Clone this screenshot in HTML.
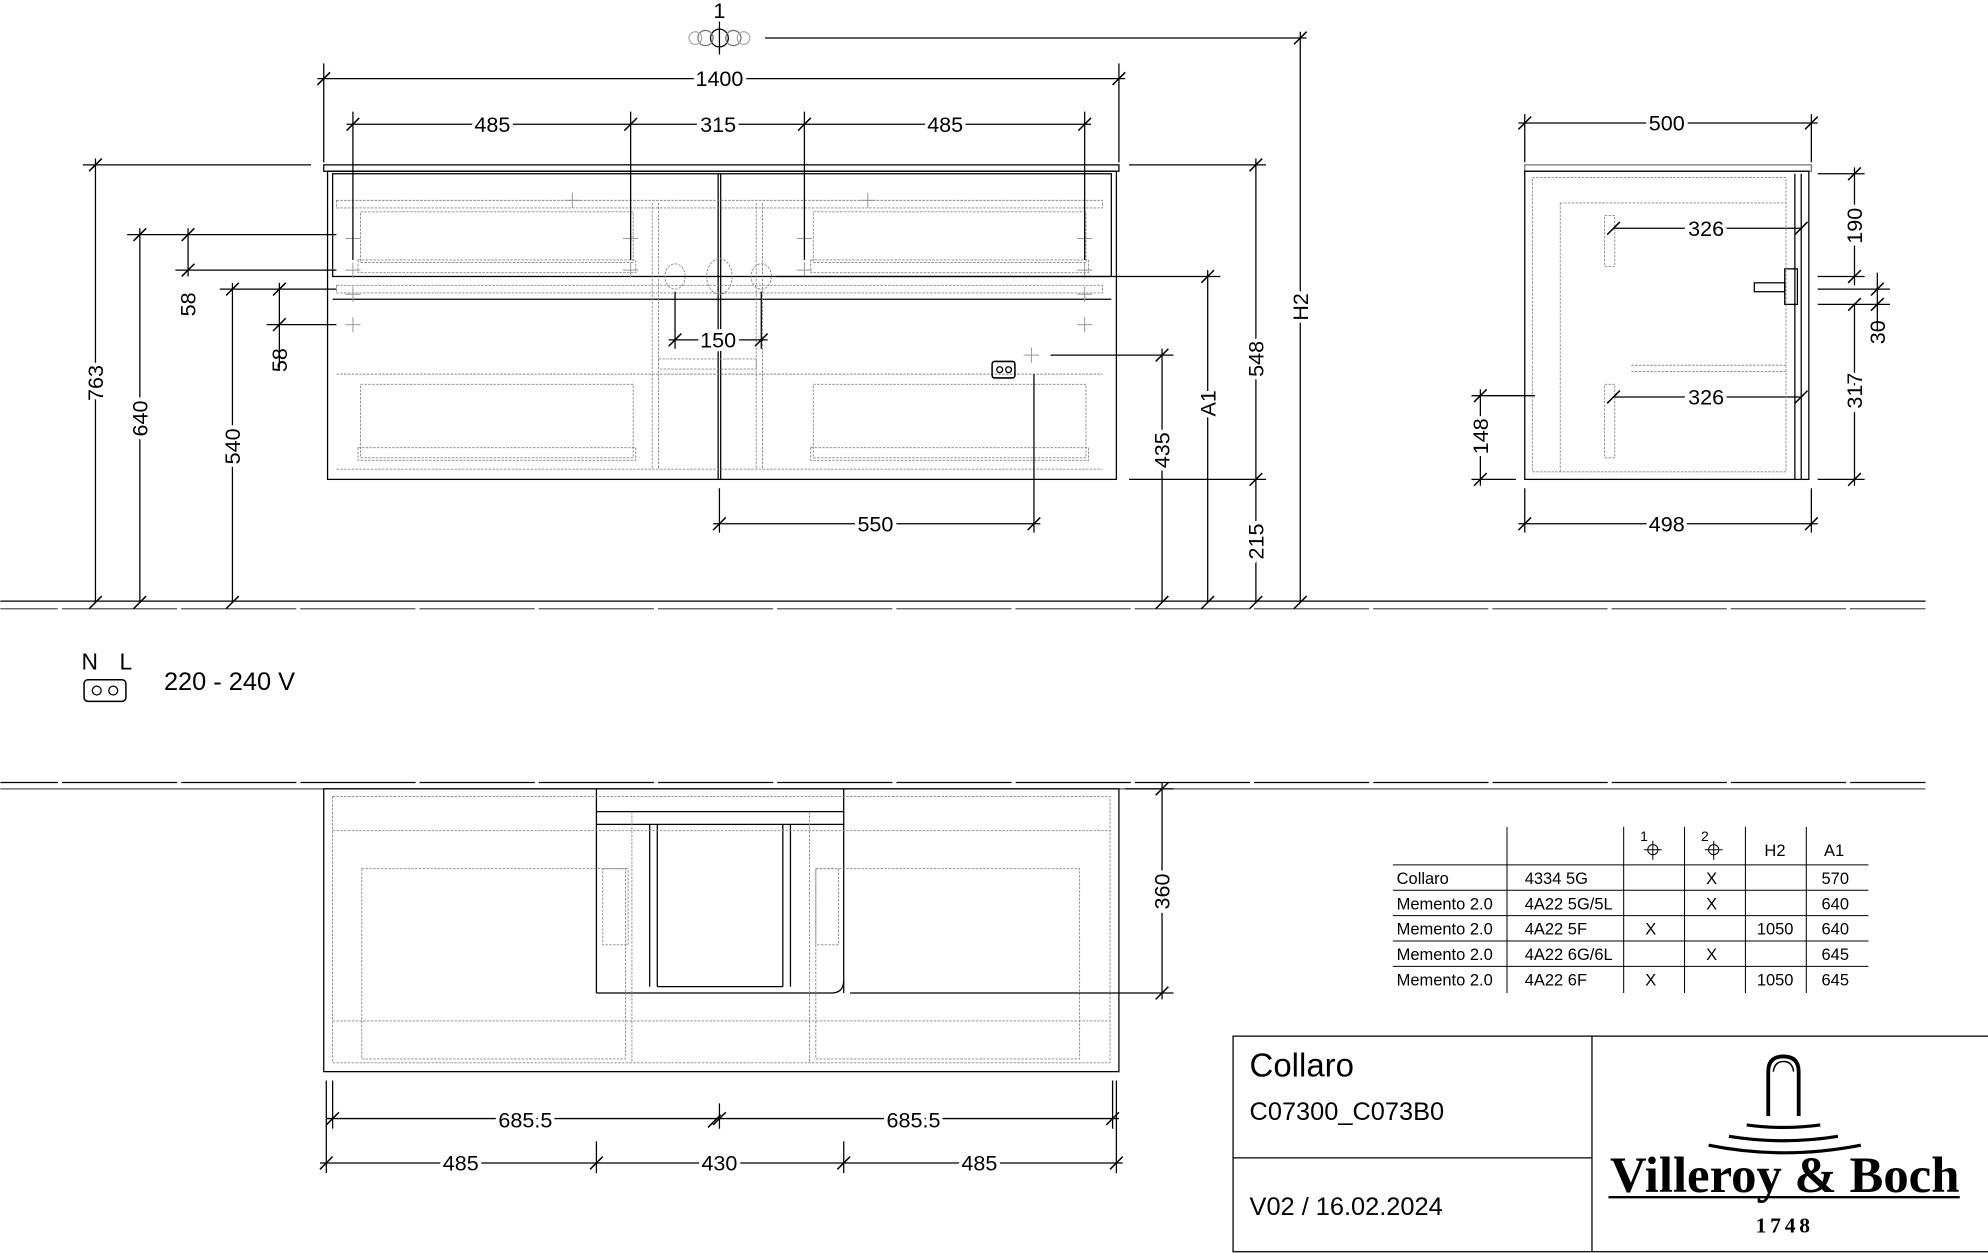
<!DOCTYPE html>
<html><head><meta charset="utf-8"><style>
html,body{margin:0;padding:0;background:#fff;}
svg{display:block;}
text{font-family:"Liberation Sans",sans-serif;fill:#000;}
.d{font-family:"DejaVu Sans Condensed","DejaVu Sans",sans-serif;font-size:17px;}
</style></head><body>
<svg width="1988" height="1253" viewBox="0 0 1567 988" xmlns="http://www.w3.org/2000/svg">
<defs>
<g id="tk"><line x1="-5" y1="5" x2="5" y2="-5" stroke="#000" stroke-width="1.2"/></g>
<g id="cr"><line x1="-6" y1="0" x2="6" y2="0" stroke="#999" stroke-width="0.8"/><line x1="0" y1="-6" x2="0" y2="6" stroke="#999" stroke-width="0.8"/></g>
</defs>
<g stroke="#000" stroke-width="1" fill="none">
<!-- floors -->
<line x1="0" y1="474" x2="1518" y2="474"/><line x1="0" y1="480" x2="1518" y2="480" stroke="#555"/>
<line x1="0" y1="617" x2="1518" y2="617"/><line x1="0" y1="622" x2="1518" y2="622" stroke="#555"/>
</g>
<g stroke="#fff" stroke-width="3">
<line x1="48" y1="476" x2="46" y2="483"/><line x1="142" y1="476" x2="140" y2="483"/><line x1="236" y1="476" x2="234" y2="483"/><line x1="330" y1="476" x2="328" y2="483"/><line x1="424" y1="476" x2="422" y2="483"/><line x1="518" y1="476" x2="516" y2="483"/><line x1="612" y1="476" x2="610" y2="483"/><line x1="706" y1="476" x2="704" y2="483"/><line x1="800" y1="476" x2="798" y2="483"/><line x1="894" y1="476" x2="892" y2="483"/><line x1="988" y1="476" x2="986" y2="483"/><line x1="1082" y1="476" x2="1080" y2="483"/><line x1="1176" y1="476" x2="1174" y2="483"/><line x1="1270" y1="476" x2="1268" y2="483"/><line x1="1364" y1="476" x2="1362" y2="483"/><line x1="1458" y1="476" x2="1456" y2="483"/>
<line x1="48" y1="614" x2="46" y2="620"/><line x1="142" y1="614" x2="140" y2="620"/><line x1="236" y1="614" x2="234" y2="620"/><line x1="330" y1="614" x2="328" y2="620"/><line x1="424" y1="614" x2="422" y2="620"/><line x1="518" y1="614" x2="516" y2="620"/><line x1="612" y1="614" x2="610" y2="620"/><line x1="706" y1="614" x2="704" y2="620"/><line x1="800" y1="614" x2="798" y2="620"/><line x1="894" y1="614" x2="892" y2="620"/><line x1="988" y1="614" x2="986" y2="620"/><line x1="1082" y1="614" x2="1080" y2="620"/><line x1="1176" y1="614" x2="1174" y2="620"/><line x1="1270" y1="614" x2="1268" y2="620"/><line x1="1364" y1="614" x2="1362" y2="620"/><line x1="1458" y1="614" x2="1456" y2="620"/>
</g>

<!-- FRONT CABINET -->
<g fill="none" stroke="#000" stroke-width="1">
<rect x="255" y="130" width="627" height="5"/>
<rect x="258" y="135" width="622" height="243"/>
<rect x="262" y="137" width="614" height="81"/>
<line x1="262" y1="236" x2="876" y2="236"/>
<line x1="566" y1="137" x2="566" y2="236"/><line x1="568" y1="137" x2="568" y2="236"/>
<line x1="566" y1="236" x2="566" y2="378"/><line x1="568" y1="236" x2="568" y2="378"/>
</g>
<g fill="none" stroke="#888" stroke-width="0.7" stroke-dasharray="2,1">
<rect x="265" y="158" width="604" height="6"/><rect x="265" y="225" width="604" height="6"/>
<line x1="265" y1="295" x2="869" y2="295"/><line x1="265" y1="370" x2="869" y2="370"/>
<rect x="284" y="167" width="215" height="40"/><rect x="282" y="205" width="219" height="10"/>
<rect x="641" y="167" width="215" height="40"/><rect x="639" y="205" width="219" height="10"/>
<rect x="284" y="303" width="215" height="58"/><rect x="282" y="353" width="219" height="10"/>
<rect x="641" y="303" width="215" height="58"/><rect x="639" y="353" width="219" height="10"/>
<line x1="514" y1="160" x2="514" y2="370"/><line x1="519" y1="160" x2="519" y2="370"/>
<line x1="596" y1="160" x2="596" y2="370"/><line x1="601" y1="160" x2="601" y2="370"/>
<rect x="519" y="283" width="77" height="8"/>
<ellipse cx="532" cy="218" rx="8" ry="10"/><ellipse cx="567" cy="218" rx="10" ry="14"/><ellipse cx="600" cy="218" rx="8" ry="10"/>
</g>
<g>
<use href="#cr" x="278" y="188"/><use href="#cr" x="497" y="188"/><use href="#cr" x="278" y="213"/><use href="#cr" x="497" y="213"/>
<use href="#cr" x="634" y="188"/><use href="#cr" x="855" y="188"/><use href="#cr" x="634" y="213"/><use href="#cr" x="855" y="213"/>
<use href="#cr" x="278" y="256"/><use href="#cr" x="855" y="256"/><use href="#cr" x="278" y="232"/><use href="#cr" x="855" y="232"/>
<use href="#cr" x="451" y="158"/><use href="#cr" x="684" y="158"/><use href="#cr" x="813" y="280"/>
</g>
<rect x="782" y="285" width="18" height="13" rx="2" fill="none" stroke="#000" stroke-width="1.2"/>
<circle cx="788" cy="291.5" r="2.3" fill="none" stroke="#000"/><circle cx="795" cy="291.5" r="2.3" fill="none" stroke="#000"/>

<!-- dimension lines front -->
<g stroke="#000" stroke-width="1" fill="none">
<line x1="255" y1="50" x2="255" y2="128"/><line x1="882" y1="50" x2="882" y2="128"/><line x1="250" y1="62" x2="887" y2="62"/>
<line x1="278" y1="88" x2="278" y2="205"/><line x1="497" y1="88" x2="497" y2="205"/><line x1="634" y1="88" x2="634" y2="205"/><line x1="855" y1="88" x2="855" y2="205"/>
<line x1="273" y1="98" x2="860" y2="98"/>
<line x1="567" y1="38" x2="567" y2="40"/>
<line x1="603" y1="30" x2="1030" y2="30"/><line x1="1025" y1="25" x2="1025" y2="475"/>
<line x1="65" y1="130" x2="245" y2="130"/><line x1="75" y1="125" x2="75" y2="475"/>
<line x1="100" y1="185" x2="265" y2="185"/><line x1="110" y1="180" x2="110" y2="475"/>
<line x1="138" y1="213" x2="265" y2="213"/><line x1="148" y1="180" x2="148" y2="218"/>
<line x1="173" y1="228" x2="265" y2="228"/><line x1="183" y1="223" x2="183" y2="475"/>
<line x1="210" y1="256" x2="265" y2="256"/><line x1="220" y1="223" x2="220" y2="290"/>
<line x1="532" y1="230" x2="532" y2="275"/><line x1="600" y1="230" x2="600" y2="275"/><line x1="527" y1="268" x2="605" y2="268"/>
<line x1="567" y1="385" x2="567" y2="420"/><line x1="815" y1="295" x2="815" y2="420"/><line x1="562" y1="413" x2="820" y2="413"/>
<line x1="828" y1="280" x2="925" y2="280"/><line x1="916" y1="275" x2="916" y2="475"/>
<line x1="612" y1="218" x2="962" y2="218"/><line x1="952" y1="213" x2="952" y2="475"/>
<line x1="890" y1="130" x2="998" y2="130"/><line x1="890" y1="378" x2="998" y2="378"/><line x1="990" y1="125" x2="990" y2="475"/>
</g>
<g>
<use href="#tk" x="255" y="62"/><use href="#tk" x="882" y="62"/>
<use href="#tk" x="278" y="98"/><use href="#tk" x="497" y="98"/><use href="#tk" x="634" y="98"/><use href="#tk" x="855" y="98"/>
<use href="#tk" x="1025" y="30"/><use href="#tk" x="1025" y="475"/>
<use href="#tk" x="75" y="130"/><use href="#tk" x="75" y="475"/><use href="#tk" x="110" y="185"/><use href="#tk" x="110" y="475"/>
<use href="#tk" x="148" y="185"/><use href="#tk" x="148" y="213"/><use href="#tk" x="183" y="228"/><use href="#tk" x="183" y="475"/>
<use href="#tk" x="220" y="228"/><use href="#tk" x="220" y="256"/>
<use href="#tk" x="532" y="268"/><use href="#tk" x="600" y="268"/><use href="#tk" x="567" y="413"/><use href="#tk" x="815" y="413"/>
<use href="#tk" x="916" y="280"/><use href="#tk" x="916" y="475"/><use href="#tk" x="952" y="218"/><use href="#tk" x="952" y="475"/>
<use href="#tk" x="990" y="130"/><use href="#tk" x="990" y="378"/><use href="#tk" x="990" y="475"/>
</g>
<g class="d" text-anchor="middle">
<text x="567" y="14" style="font-size:17px">1</text>
<text x="567" y="68" fill="#000" stroke="#fff" stroke-width="6" paint-order="stroke">1400</text>
<text x="388" y="104" stroke="#fff" stroke-width="6" paint-order="stroke">485</text>
<text x="566" y="104" stroke="#fff" stroke-width="6" paint-order="stroke">315</text>
<text x="745" y="104" stroke="#fff" stroke-width="6" paint-order="stroke">485</text>
<text x="566" y="274" stroke="#fff" stroke-width="6" paint-order="stroke">150</text>
<text x="690" y="419" stroke="#fff" stroke-width="6" paint-order="stroke">550</text>
<text transform="translate(81,302) rotate(-90)" stroke="#fff" stroke-width="6" paint-order="stroke">763</text>
<text transform="translate(116,330) rotate(-90)" stroke="#fff" stroke-width="6" paint-order="stroke">640</text>
<text transform="translate(154,240) rotate(-90)">58</text>
<text transform="translate(189,352) rotate(-90)" stroke="#fff" stroke-width="6" paint-order="stroke">540</text>
<text transform="translate(226,284) rotate(-90)">58</text>
<text transform="translate(922,355) rotate(-90)" stroke="#fff" stroke-width="6" paint-order="stroke">435</text>
<text transform="translate(958,318) rotate(-90)" stroke="#fff" stroke-width="6" paint-order="stroke">A1</text>
<text transform="translate(996,283) rotate(-90)" stroke="#fff" stroke-width="6" paint-order="stroke">548</text>
<text transform="translate(996,427) rotate(-90)" stroke="#fff" stroke-width="6" paint-order="stroke">215</text>
<text transform="translate(1031,242) rotate(-90)" stroke="#fff" stroke-width="6" paint-order="stroke">H2</text>
</g>
<g fill="none" stroke="#000" stroke-width="1">
<circle cx="567" cy="30" r="7"/><circle cx="556" cy="30" r="6" stroke="#777"/><circle cx="578" cy="30" r="6" stroke="#777"/>
<circle cx="548" cy="30" r="5" stroke="#aaa"/><circle cx="586" cy="30" r="5" stroke="#aaa"/>
<line x1="567" y1="17" x2="567" y2="43"/>
</g>

<!-- SIDE VIEW -->
<g fill="none" stroke="#000" stroke-width="1">
<rect x="1202" y="130" width="226" height="5" stroke="#777"/>
<rect x="1202" y="135" width="224" height="243"/>
<line x1="1415" y1="137" x2="1415" y2="378"/>
<line x1="1420" y1="137" x2="1420" y2="378"/>
<rect x="1407" y="212" width="10" height="28"/>
<rect x="1383" y="223" width="24" height="7"/>
<line x1="1202" y1="90" x2="1202" y2="128"/><line x1="1428" y1="90" x2="1428" y2="128"/><line x1="1197" y1="97" x2="1433" y2="97"/>
<line x1="1202" y1="385" x2="1202" y2="420"/><line x1="1428" y1="385" x2="1428" y2="420"/><line x1="1197" y1="413" x2="1433" y2="413"/>
<line x1="1433" y1="137" x2="1470" y2="137"/><line x1="1433" y1="218" x2="1470" y2="218"/><line x1="1462" y1="132" x2="1462" y2="225"/>
<line x1="1433" y1="228" x2="1490" y2="228"/><line x1="1433" y1="240" x2="1490" y2="240"/><line x1="1480" y1="215" x2="1480" y2="260"/>
<line x1="1433" y1="378" x2="1470" y2="378"/><line x1="1462" y1="240" x2="1462" y2="383"/>
<line x1="1160" y1="312" x2="1210" y2="312"/><line x1="1160" y1="378" x2="1195" y2="378"/><line x1="1167" y1="307" x2="1167" y2="383"/>
<line x1="1272" y1="180" x2="1420" y2="180"/><line x1="1272" y1="313" x2="1420" y2="313"/>
</g>
<g fill="none" stroke="#888" stroke-width="0.7" stroke-dasharray="2,1">
<rect x="1208" y="140" width="200" height="232"/>
<rect x="1265" y="170" width="8" height="40"/><rect x="1265" y="303" width="8" height="58"/>
<line x1="1230" y1="160" x2="1408" y2="160"/><line x1="1230" y1="160" x2="1230" y2="372"/>
<line x1="1286" y1="288" x2="1408" y2="288"/><line x1="1286" y1="293" x2="1408" y2="293"/>
</g>
<g>
<use href="#tk" x="1202" y="97"/><use href="#tk" x="1428" y="97"/><use href="#tk" x="1202" y="413"/><use href="#tk" x="1428" y="413"/>
<use href="#tk" x="1462" y="137"/><use href="#tk" x="1462" y="218"/><use href="#tk" x="1480" y="228"/><use href="#tk" x="1480" y="240"/>
<use href="#tk" x="1462" y="240"/><use href="#tk" x="1462" y="378"/><use href="#tk" x="1167" y="312"/><use href="#tk" x="1167" y="378"/>
<use href="#tk" x="1272" y="180"/><use href="#tk" x="1420" y="180"/><use href="#tk" x="1272" y="313"/><use href="#tk" x="1420" y="313"/>
</g>
<g class="d" text-anchor="middle">
<text x="1314" y="103" stroke="#fff" stroke-width="6" paint-order="stroke">500</text>
<text x="1314" y="419" stroke="#fff" stroke-width="6" paint-order="stroke">498</text>
<text x="1345" y="186" stroke="#fff" stroke-width="6" paint-order="stroke">326</text>
<text x="1345" y="319" stroke="#fff" stroke-width="6" paint-order="stroke">326</text>
<text transform="translate(1468,178) rotate(-90)" stroke="#fff" stroke-width="6" paint-order="stroke">190</text>
<text transform="translate(1486,262) rotate(-90)">30</text>
<text transform="translate(1468,308) rotate(-90)" stroke="#fff" stroke-width="6" paint-order="stroke">317</text>
<text transform="translate(1173,344) rotate(-90)" stroke="#fff" stroke-width="6" paint-order="stroke">148</text>
</g>

<!-- NL symbol -->
<text x="64" y="528" style="font-size:18px">N</text><text x="94" y="528" style="font-size:18px">L</text>
<rect x="66" y="536" width="33" height="17" rx="3" fill="none" stroke="#000" stroke-width="1.2"/>
<circle cx="76" cy="544.5" r="3.5" fill="none" stroke="#000"/><circle cx="89" cy="544.5" r="3.5" fill="none" stroke="#000"/>
<text x="129" y="544" style="font-size:20px">220 - 240 V</text>

<!-- TOP VIEW -->
<g fill="none" stroke="#000" stroke-width="1">
<rect x="255" y="622" width="627" height="223"/>
<line x1="470" y1="622" x2="470" y2="783"/><line x1="665" y1="622" x2="665" y2="783"/>
<line x1="470" y1="640" x2="665" y2="640"/>
<line x1="512" y1="650" x2="512" y2="778"/><line x1="518" y1="650" x2="518" y2="778"/>
<line x1="617" y1="650" x2="617" y2="778"/><line x1="623" y1="650" x2="623" y2="778"/>
<line x1="470" y1="650" x2="665" y2="650"/>
<path d="M470 783 Q470 783 480 783 L655 783 Q665 783 665 773"/>
<line x1="518" y1="778" x2="617" y2="778"/>
</g>
<g fill="none" stroke="#888" stroke-width="0.7" stroke-dasharray="2,1">
<rect x="262" y="628" width="613" height="210"/>
<line x1="262" y1="655" x2="875" y2="655"/><line x1="262" y1="805" x2="875" y2="805"/>
<rect x="285" y="685" width="208" height="150"/><rect x="643" y="685" width="208" height="150"/>
<rect x="475" y="685" width="20" height="60"/><rect x="643" y="685" width="18" height="60"/>
<line x1="498" y1="640" x2="498" y2="838"/><line x1="638" y1="640" x2="638" y2="838"/>
</g>
<g stroke="#000" stroke-width="1" fill="none">
<line x1="887" y1="622" x2="925" y2="622"/><line x1="670" y1="783" x2="925" y2="783"/><line x1="916" y1="617" x2="916" y2="788"/>
<line x1="257" y1="852" x2="257" y2="925"/><line x1="262" y1="852" x2="262" y2="890"/><line x1="877" y1="852" x2="877" y2="890"/><line x1="880" y1="852" x2="880" y2="925"/>
<line x1="567" y1="870" x2="567" y2="890"/><line x1="257" y1="882" x2="882" y2="882"/>
<line x1="470" y1="900" x2="470" y2="925"/><line x1="665" y1="900" x2="665" y2="925"/><line x1="252" y1="917" x2="885" y2="917"/>
</g>
<g>
<use href="#tk" x="916" y="622"/><use href="#tk" x="916" y="783"/>
<use href="#tk" x="262" y="882"/><use href="#tk" x="567" y="882"/><use href="#tk" x="563" y="884"/><use href="#tk" x="877" y="882"/>
<use href="#tk" x="257" y="917"/><use href="#tk" x="470" y="917"/><use href="#tk" x="665" y="917"/><use href="#tk" x="880" y="917"/>
</g>
<g class="d" text-anchor="middle">
<text x="414" y="889" stroke="#fff" stroke-width="6" paint-order="stroke">685.5</text>
<text x="720" y="889" stroke="#fff" stroke-width="6" paint-order="stroke">685.5</text>
<text x="363" y="923" stroke="#fff" stroke-width="6" paint-order="stroke">485</text>
<text x="567" y="923" stroke="#fff" stroke-width="6" paint-order="stroke">430</text>
<text x="772" y="923" stroke="#fff" stroke-width="6" paint-order="stroke">485</text>
<text transform="translate(922,703) rotate(-90)" stroke="#fff" stroke-width="6" paint-order="stroke">360</text>
</g>

<!-- TABLE -->
<g stroke="#000" stroke-width="0.8">
<line x1="1098" y1="682" x2="1473" y2="682"/><line x1="1098" y1="702" x2="1473" y2="702"/><line x1="1098" y1="722" x2="1473" y2="722"/>
<line x1="1098" y1="742" x2="1473" y2="742"/><line x1="1098" y1="762" x2="1473" y2="762"/>
<line x1="1188" y1="652" x2="1188" y2="783"/><line x1="1280" y1="652" x2="1280" y2="783"/><line x1="1328" y1="652" x2="1328" y2="783"/>
<line x1="1376" y1="652" x2="1376" y2="783"/><line x1="1424" y1="652" x2="1424" y2="783"/>
</g>
<g fill="none" stroke="#000" stroke-width="0.8">
<circle cx="1303" cy="670" r="4"/><line x1="1296" y1="670" x2="1310" y2="670"/><line x1="1303" y1="663" x2="1303" y2="678"/>
<circle cx="1351" cy="670" r="4"/><line x1="1344" y1="670" x2="1358" y2="670"/><line x1="1351" y1="663" x2="1351" y2="678"/>
</g>
<g style="font-size:13px">
<text x="1293" y="663" style="font-size:11px">1</text><text x="1341" y="663" style="font-size:11px">2</text>
<text x="1391" y="675">H2</text><text x="1438" y="675">A1</text>
<text x="1101" y="697">Collaro</text><text x="1202" y="697">4334 5G</text><text x="1345" y="697">X</text><text x="1436" y="697">570</text>
<text x="1101" y="717">Memento 2.0</text><text x="1202" y="717">4A22 5G/5L</text><text x="1345" y="717">X</text><text x="1436" y="717">640</text>
<text x="1101" y="737">Memento 2.0</text><text x="1202" y="737">4A22 5F</text><text x="1297" y="737">X</text><text x="1385" y="737">1050</text><text x="1436" y="737">640</text>
<text x="1101" y="757">Memento 2.0</text><text x="1202" y="757">4A22 6G/6L</text><text x="1345" y="757">X</text><text x="1436" y="757">645</text>
<text x="1101" y="777">Memento 2.0</text><text x="1202" y="777">4A22 6F</text><text x="1297" y="777">X</text><text x="1385" y="777">1050</text><text x="1436" y="777">645</text>
</g>

<!-- TITLE BLOCK -->
<g fill="none" stroke="#000" stroke-width="1">
<rect x="972" y="817" width="600" height="170"/>
<line x1="1255" y1="817" x2="1255" y2="987"/>
<line x1="972" y1="913" x2="1255" y2="913"/>
</g>
<text x="985" y="849" style="font-size:26px">Collaro</text>
<text x="985" y="883" style="font-size:20px">C07300_C073B0</text>
<text x="985" y="958" style="font-size:20px">V02 / 16.02.2024</text>
<g fill="none" stroke="#000">
<path d="M1394 880 L1394 845 Q1394 833 1406 833 Q1418 833 1418 845 L1418 880" stroke-width="3"/>
<path d="M1398 845 Q1399 837 1406 837 Q1413 837 1414 845" stroke-width="1.2"/>
<path d="M1377 887 Q1406 891 1435 887" stroke-width="2.5"/>
<path d="M1363 896 Q1406 903 1449 896" stroke-width="2.5"/>
<path d="M1347 903 Q1406 915 1467 903" stroke-width="2.5"/>
<line x1="1268" y1="944" x2="1545" y2="944" stroke-width="1.8"/>
</g>
<text x="1407" y="940" text-anchor="middle" style="font-family:'Liberation Serif',serif;font-weight:bold;font-size:40px">Villeroy &amp; Boch</text>
<text x="1407" y="972" text-anchor="middle" style="font-family:'Liberation Serif',serif;font-weight:bold;font-size:17px;letter-spacing:3px">1748</text>
</svg>
</body></html>
